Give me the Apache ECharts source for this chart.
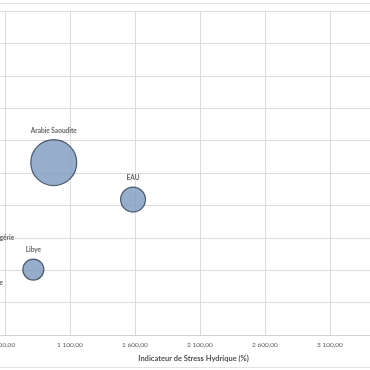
<!DOCTYPE html>
<html>
<head>
<meta charset="utf-8">
<script src="https://cdn.jsdelivr.net/npm/echarts@6/dist/echarts.min.js"></script>
<style>html,body{margin:0;padding:0;background:#fff}#c{width:370px;height:370px}</style>
</head>
<body>
<div id="c"></div>
<script>
// Data
const countries = ['Arabie Saoudite', 'EAU', 'Libye', 'Algérie', 'Tunisie'];
const stressHydrique = [975, 1585, 818, 270, 280];   // x: Indicateur de Stress Hydrique (%)
const yValues = [5.32, 4.18, 2.02, 3.0, 1.6];        // y (axis off-picture)
const population = [33, 9.7, 6.9, 42, 11.8];         // bubble size
const xTickStart = 100, xTickStep = 500, xMax = 4000;
const xAxisTitle = 'Indicateur de Stress Hydrique (%)';

const labelRight = { 'Algérie': true, 'Tunisie': true };

const fmt = v => {
  const s = v.toFixed(2).replace('.', ',');
  const [i, d] = s.split(',');
  return i.replace(/\B(?=(\d{3})+(?!\d))/g, ' ') + ',' + d;
};

const data = countries.map((c, i) => {
  const item = { name: c, value: [stressHydrique[i], yValues[i], population[i]] };
  if (labelRight[c]) item.label = { position: 'right' };
  return item;
});

const chart = echarts.init(document.getElementById('c'), null, { renderer: 'canvas' });
chart.setOption({
  animation: false,
  backgroundColor: '#ffffff',
  graphic: [
    { type: 'line', shape: { x1: 0, y1: 3.5, x2: 370, y2: 3.5 }, style: { stroke: '#e3e3e3', lineWidth: 1 } },
    { type: 'line', shape: { x1: 0, y1: 367.5, x2: 370, y2: 367.5 }, style: { stroke: '#e3e3e3', lineWidth: 1 } }
  ],
  grid: { left: -60, top: 11, width: 507, height: 324, containLabel: false, outerBoundsMode: 'none' },
  xAxis: {
    type: 'value',
    min: xTickStart, max: xMax, interval: xTickStep,
    axisLine: { show: true, lineStyle: { color: '#d4d4d4', width: 1 } },
    axisTick: { show: false },
    splitLine: { show: true, lineStyle: { color: '#dcdcdc', width: 1 } },
    axisLabel: {
      color: '#595959', fontSize: 6.5, fontFamily: 'Lato', margin: 6,
      formatter: v => (v === xMax ? '' : fmt(v))
    },
    name: xAxisTitle,
    nameLocation: 'middle',
    nameGap: 20,
    nameTextStyle: { color: '#505050', fontSize: 7.5, fontWeight: 'bold', fontFamily: 'Lato' }
  },
  yAxis: {
    type: 'value', min: 0, max: 10, interval: 1,
    axisLine: { show: false }, axisTick: { show: false },
    axisLabel: { show: false },
    splitLine: { show: true, lineStyle: { color: '#dcdcdc', width: 1 } }
  },
  series: [{
    type: 'scatter',
    clip: false,
    data: data,
    symbolSize: v => 8 * Math.sqrt(v[2]),
    itemStyle: { color: '#7c99bf', borderColor: '#2c3a4c', borderWidth: 1.2 },
    label: {
      show: true, position: 'top', distance: 5,
      formatter: p => p.name,
      color: '#3a3a3a', fontSize: 6.5, fontWeight: 'bold', fontFamily: 'Lato'
    }
  }]
});
</script>
</body>
</html>
